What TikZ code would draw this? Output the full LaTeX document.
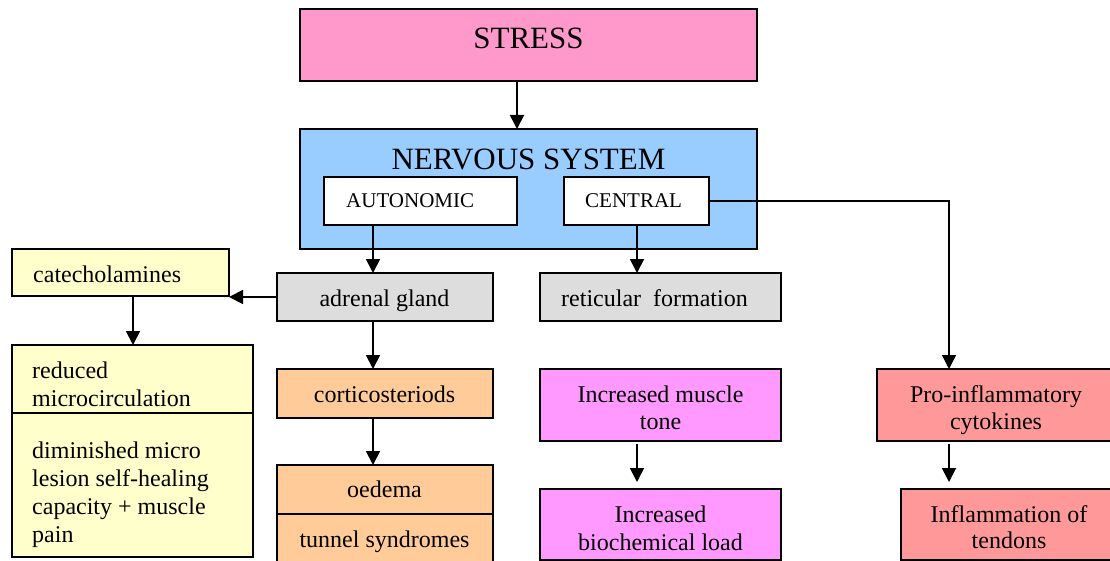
\documentclass[tikz,border=0pt]{standalone}
\usepackage{fontspec}
\setmainfont{Liberation Serif}
\usetikzlibrary{arrows.meta}
\definecolor{cstress}{HTML}{FF99CC}
\definecolor{cns}{HTML}{99CCFF}
\definecolor{cgray}{HTML}{DDDDDD}
\definecolor{cyel}{HTML}{FFFFCC}
\definecolor{corange}{HTML}{FFCC99}
\definecolor{cmag}{HTML}{FF99FF}
\definecolor{csalmon}{HTML}{FF9999}
\tikzset{
  boxx/.style={draw=black, line width=1.8pt, inner sep=0pt, outer sep=0pt},
  arr/.style={line width=1.8pt, -{Triangle[length=14pt,width=14pt]}},
  thinarr/.style={line width=1.2pt, -{Triangle[length=14pt,width=14pt]}},
  big/.style={font=\fontsize{31}{34}\selectfont, inner sep=0pt},
  body/.style={font=\fontsize{24}{27.6}\selectfont, inner sep=0pt},
  small/.style={font=\fontsize{21}{24}\selectfont, inner sep=0pt}
}
\newcommand{\bx}[6]{% name, fill, x1, y1, x2, y2
  \path[boxx, fill=#2] (#3,#4) rectangle (#5,#6);
  \node[inner sep=0pt, outer sep=0pt, minimum width={#5-#3}, minimum height={#6-#4}] (#1) at ({(#3+#5)/2},{(#4+#6)/2}) {};
}
\begin{document}
\begin{tikzpicture}[x=1pt,y=-1pt]
\useasboundingbox (0,0) rectangle (1110,561);
% boxes
\bx{stress}{cstress}{300}{9}{757}{81}
\bx{ns}{cns}{300}{129}{757}{249}
\bx{auto}{white}{324}{177}{517}{225}
\bx{central}{white}{564}{177}{709}{225}
\bx{adrenal}{cgray}{277}{273}{493}{321}
\bx{retic}{cgray}{540}{273}{781}{321}
\bx{catech}{cyel}{12}{249}{229}{296}
\bx{redtop}{cyel}{12}{345}{253}{413}
\bx{redbot}{cyel}{12}{413}{253}{557}
\bx{cortico}{corange}{277}{369}{493}{418}
\bx{oedema}{corange}{277}{465}{493}{514}
\bx{tunnel}{corange}{277}{514}{493}{566}
\bx{tone}{cmag}{540}{369}{781}{441}
\bx{load}{cmag}{540}{489}{781}{560}
\bx{proinf}{csalmon}{877}{369}{1118}{441}
\bx{inflam}{csalmon}{901}{489}{1118}{560}
% texts
\node[big, anchor=base] (tstress) at (528.5,49) {STRESS};
\node[big, anchor=base] (tns) at (528.5,170) {NERVOUS SYSTEM};
\node[small, anchor=base west] (tauto) at (346,208) {AUTONOMIC};
\node[small, anchor=base west] (tcentral) at (585,208) {CENTRAL};
\node[body, anchor=base] (tadrenal) at (384.5,306) {adrenal gland};
\node[body, anchor=base west] (tretic) at (561,306) {reticular\ \ formation};
\node[body, anchor=base west] (tcatech) at (33,282) {catecholamines};
\node[body, anchor=base west] (tred1) at (32,378) {reduced};
\node[body, anchor=base west] (tred2) at (32,406) {microcirculation};
\node[body, anchor=base west] (tdim1) at (32,458) {diminished micro};
\node[body, anchor=base west] (tdim2) at (32,486) {lesion self-healing};
\node[body, anchor=base west] (tdim3) at (32,514) {capacity + muscle};
\node[body, anchor=base west] (tdim4) at (32,542) {pain};
\node[body, anchor=base] (tcortico) at (384.5,402) {corticosteriods};
\node[body, anchor=base] (toedema) at (384.5,497) {oedema};
\node[body, anchor=base] (ttunnel) at (384.5,547) {tunnel syndromes};
\node[body, anchor=base] (ttone1) at (660.5,402) {Increased muscle};
\node[body, anchor=base] (ttone2) at (660.5,429) {tone};
\node[body, anchor=base] (tload1) at (660.5,522) {Increased};
\node[body, anchor=base] (tload2) at (660.5,550) {biochemical load};
\node[body, anchor=base] (tpro1) at (996,402) {Pro-inflammatory};
\node[body, anchor=base] (tpro2) at (996,429) {cytokines};
\node[body, anchor=base] (tinf1) at (1009,522) {Inflammation of};
\node[body, anchor=base] (tinf2) at (1009,548) {tendons};
% connector columns
\coordinate (xs) at (517,0);
\coordinate (xa) at (373,0);
\coordinate (xc) at (637,0);
\coordinate (xp) at (949,0);
\coordinate (xy) at (133,0);
% connectors
\draw[arr] (stress.south -| xs) -- (ns.north -| xs);
\draw[arr] (auto.south -| xa) -- (adrenal.north -| xa);
\draw[arr] (central.south -| xc) -- (retic.north -| xc);
\draw[thinarr] (central.east) -| (proinf.north -| xp);
\draw[arr] (adrenal.west) -- (adrenal.west -| catech.east);
\draw[arr] (catech.south -| xy) -- (redtop.north -| xy);
\draw[arr] (adrenal.south -| xa) -- (cortico.north -| xa);
\draw[arr] (cortico.south -| xa) -- (oedema.north -| xa);
\draw[arr, shorten <=3pt, shorten >=7pt] (tone.south -| xc) -- (load.north -| xc);
\draw[arr, shorten <=3pt, shorten >=7pt] (proinf.south -| xp) -- (inflam.north -| xp);
\end{tikzpicture}
\end{document}
